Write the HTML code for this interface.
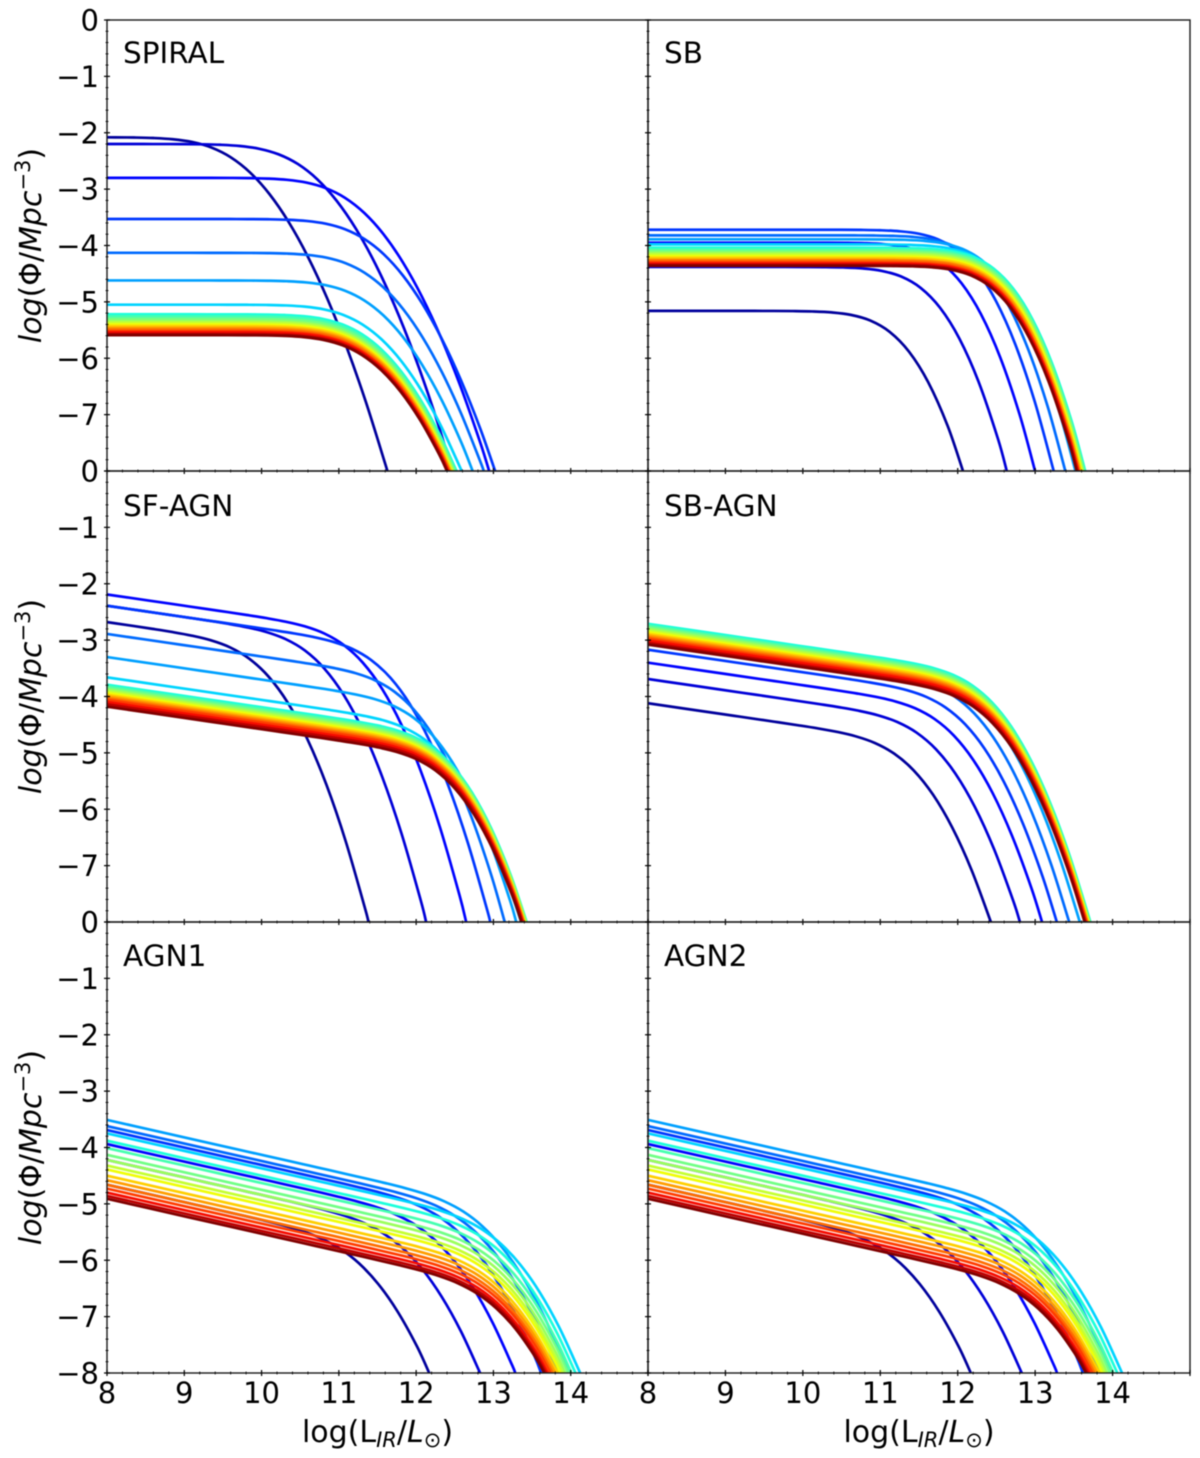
<!DOCTYPE html>
<html lang="en">
<head>
<meta charset="utf-8">
<title>Luminosity functions by galaxy population</title>
<style>
html,body{margin:0;padding:0;background:#fff;width:1200px;height:1458px;overflow:hidden;}
#figure{display:block;width:1200px;height:1458px;font-family:"DejaVu Sans","Liberation Sans",sans-serif;fill:#000;filter:blur(0.4px);}
</style>
</head>
<body>
<svg id="figure" xmlns="http://www.w3.org/2000/svg" width="1200" height="1458" viewBox="0 0 1200 1458">
  <g id="panels"></g>

  <text transform="translate(41 245.5) rotate(-90)" text-anchor="middle" font-size="30"><tspan font-style="italic">log</tspan>(Φ/<tspan font-style="italic">Mpc</tspan><tspan dy="-11" font-size="21">−3</tspan><tspan dy="11">)</tspan></text>
  <text transform="translate(41 696.5) rotate(-90)" text-anchor="middle" font-size="30"><tspan font-style="italic">log</tspan>(Φ/<tspan font-style="italic">Mpc</tspan><tspan dy="-11" font-size="21">−3</tspan><tspan dy="11">)</tspan></text>
  <text transform="translate(41 1147.5) rotate(-90)" text-anchor="middle" font-size="30"><tspan font-style="italic">log</tspan>(Φ/<tspan font-style="italic">Mpc</tspan><tspan dy="-11" font-size="21">−3</tspan><tspan dy="11">)</tspan></text>

  <text x="377.5" y="1442" text-anchor="middle" font-size="30">log(L<tspan dy="5" font-size="21" font-style="italic">IR</tspan><tspan dy="-5">/</tspan><tspan font-style="italic">L</tspan><tspan dy="5" font-size="21">⊙</tspan><tspan dy="-5">)</tspan></text>
  <text x="919" y="1442" text-anchor="middle" font-size="30">log(L<tspan dy="5" font-size="21" font-style="italic">IR</tspan><tspan dy="-5">/</tspan><tspan font-style="italic">L</tspan><tspan dy="5" font-size="21">⊙</tspan><tspan dy="-5">)</tspan></text>
</svg>

<script>
// Tick values and printed labels
const xTickValues = [8, 9, 10, 11, 12, 13, 14];
const xTickLabels = ["8", "9", "10", "11", "12", "13", "14"];
const yTickValues = [0, -1, -2, -3, -4, -5, -6, -7, -8];
const yTickLabels = ["0", "−1", "−2", "−3", "−4", "−5", "−6", "−7", "−8"];

// Panel titles
const panelNames = ["SPIRAL", "SB", "SF-AGN", "SB-AGN", "AGN1", "AGN2"];

// Height of each curve at the left edge, log L = 8
const spiralLevels = [-2.08, -2.2, -2.8, -3.53, -4.13, -4.62, -5.05, -5.22, -5.26, -5.30, -5.34, -5.37, -5.40, -5.43, -5.46, -5.49, -5.52, -5.54, -5.57, -5.59];
const sbLevels = [-5.16, -4.38, -3.95, -3.72, -3.82, -3.89, -3.98, -4.04, -4.07, -4.10, -4.13, -4.16, -4.19, -4.22, -4.25, -4.27, -4.30, -4.32, -4.34, -4.36];
const sfAgnLevels = [-2.68, -2.39, -2.19, -2.39, -2.89, -3.30, -3.66, -3.79, -3.82, -3.85, -3.88, -3.91, -3.94, -3.97, -4.0, -4.03, -4.06, -4.1, -4.14, -4.18];
const sbAgnLevels = [-4.12, -3.69, -3.40, -3.17, -2.95, -2.85, -2.78, -2.71, -2.74, -2.77, -2.80, -2.83, -2.86, -2.89, -2.92, -2.95, -2.98, -3.01, -3.05, -3.08];
const agn1Levels = [-4.66, -4.22, -3.94, -3.69, -3.62, -3.51, -3.75, -3.88, -4.01, -4.13, -4.22, -4.32, -4.39, -4.50, -4.58, -4.66, -4.73, -4.80, -4.86, -4.91];
const agn2Levels = [-4.66, -4.22, -3.94, -3.69, -3.62, -3.51, -3.75, -3.88, -4.01, -4.13, -4.22, -4.32, -4.39, -4.50, -4.58, -4.66, -4.73, -4.80, -4.86, -4.91];

// Knee position of each curve in log L (estimated from where each one bends and leaves the axes)
const spiralKnees = [9.1, 9.97, 10.58, 10.83, 10.835, 10.83, 10.81, 10.8, 10.8, 10.8, 10.8, 10.8, 10.8, 10.8, 10.8, 10.8, 10.8, 10.8, 10.8, 10.8];
const sbKnees = [10.87, 11.27, 11.55, 11.745, 11.915, 12.06, 12.14, 12.215, 12.21, 12.21, 12.2, 12.2, 12.2, 12.19, 12.19, 12.18, 12.18, 12.18, 12.17, 12.17];
const sfAgnKnees = [9.59, 10.31, 10.81, 11.17, 11.47, 11.715, 11.86, 11.97, 11.97, 11.98, 11.98, 11.98, 11.98, 11.99, 11.99, 11.99, 11.99, 12, 12, 12];
const sbAgnKnees = [10.93, 11.22, 11.45, 11.595, 11.71, 11.83, 11.92, 11.94, 11.94, 11.94, 11.94, 11.95, 11.95, 11.95, 11.95, 11.95, 11.95, 11.95, 11.95, 11.95];
const agn1Knees = [10.76, 11.33, 11.74, 12.03, 12.25, 12.36, 12.60, 12.58, 12.57, 12.57, 12.56, 12.56, 12.55, 12.55, 12.55, 12.55, 12.55, 12.54, 12.54, 12.54];
const agn2Knees = [10.76, 11.33, 11.74, 12.03, 12.25, 12.36, 12.60, 12.58, 12.57, 12.57, 12.56, 12.56, 12.55, 12.55, 12.55, 12.55, 12.55, 12.54, 12.54, 12.54];

// Low-end slope and bend strength of each panel
const panelSlopes = [0, 0, -0.2, -0.2, -0.31, -0.31];
const panelBends = [0.926, 1.88, 1.43, 1.31, 1.0, 1.0];

// Shared roll-off profile: distance from the knee, and the unit drop at that distance
const rolloffOffsets = [-9, -8, -7, -6, -5, -4, -3, -2.5, -2, -1.75, -1.5, -1.25, -1, -0.75, -0.5, -0.25, 0, 0.25, 0.5, 0.75, 1, 1.25, 1.5, 1.75, 2, 2.25, 2.5, 2.75, 3, 3.25, 3.5, 3.75, 4];
const rolloffDrops = [0, 0, 0, 0, 0, 0, 0, 0.000002, 0.000019, 0.000059, 0.000183, 0.000565, 0.001713, 0.00505, 0.01424, 0.03754, 0.09062, 0.19694, 0.38358, 0.67417, 1.0845, 1.62249, 2.29074, 3.0893, 4.0173, 5.0735, 6.2568, 7.5667, 9.0026, 10.5641, 12.251, 14.0628, 16.0003];

const levelsByPanel = [spiralLevels, sbLevels, sfAgnLevels, sbAgnLevels, agn1Levels, agn2Levels];
const kneesByPanel = [spiralKnees, sbKnees, sfAgnKnees, sbAgnKnees, agn1Knees, agn2Knees];

const SVG_NS = "http://www.w3.org/2000/svg";
const columnLeft = [107, 648];
const columnRight = [648, 1190];
const rowTop = [20, 471, 922];
const rowBottom = [471, 922, 1373];
const titleOffset = [43, 45, 44];
const xMin = 8, xMax = 15, yMin = -8, yMax = 0;

function xScale(col, v) {
  return columnLeft[col] + (v - xMin) / (xMax - xMin) * (columnRight[col] - columnLeft[col]);
}
function yScale(row, v) {
  return rowTop[row] + (yMax - v) / (yMax - yMin) * (rowBottom[row] - rowTop[row]);
}
function ramp(t, stops) {
  if (t <= stops[0][0]) return stops[0][1];
  for (let i = 1; i < stops.length; i++) {
    if (t <= stops[i][0]) {
      const a = stops[i - 1], b = stops[i];
      return a[1] + (b[1] - a[1]) * (t - a[0]) / (b[0] - a[0]);
    }
  }
  return stops[stops.length - 1][1];
}
function jet(t) {
  const r = ramp(t, [[0, 0], [0.35, 0], [0.66, 1], [0.89, 1], [1, 0.5]]);
  const g = ramp(t, [[0, 0], [0.125, 0], [0.375, 1], [0.64, 1], [0.91, 0], [1, 0]]);
  const b = ramp(t, [[0, 0.5], [0.11, 1], [0.34, 1], [0.65, 0], [1, 0]]);
  return "rgb(" + Math.round(r * 255) + "," + Math.round(g * 255) + "," + Math.round(b * 255) + ")";
}
function curvePoints(col, row, level, knee, slope, bend) {
  // Keep only the stretch inside the axes, ending exactly on the left edge and on the bottom edge.
  const pts = [];
  let prev = null;
  for (let i = 0; i < rolloffOffsets.length; i++) {
    const x = knee + rolloffOffsets[i];
    const y = level + slope * (x - xMin) - bend * rolloffDrops[i];
    const cur = [x, y];
    if (x >= xMin) {
      if (pts.length === 0 && prev) {
        const f = (xMin - prev[0]) / (x - prev[0]);
        pts.push([xMin, prev[1] + (y - prev[1]) * f]);
      }
      if (y <= yMin) {
        const last = pts[pts.length - 1];
        const f = (last[1] - yMin) / (last[1] - y);
        pts.push([last[0] + (x - last[0]) * f, yMin]);
        break;
      }
      pts.push(cur);
    }
    prev = cur;
  }
  return pts.map(function (p) { return [xScale(col, p[0]), yScale(row, p[1])]; });
}
function curvePath(pts) {
  let d = "M" + pts[0][0].toFixed(2) + " " + pts[0][1].toFixed(2);
  for (let i = 0; i < pts.length - 1; i++) {
    const p0 = pts[Math.max(i - 1, 0)], p1 = pts[i], p2 = pts[i + 1], p3 = pts[Math.min(i + 2, pts.length - 1)];
    const c1x = p1[0] + (p2[0] - p0[0]) / 6, c1y = p1[1] + (p2[1] - p0[1]) / 6;
    const c2x = p2[0] - (p3[0] - p1[0]) / 6, c2y = p2[1] - (p3[1] - p1[1]) / 6;
    d += "C" + c1x.toFixed(2) + " " + c1y.toFixed(2) + " " + c2x.toFixed(2) + " " + c2y.toFixed(2) + " " + p2[0].toFixed(2) + " " + p2[1].toFixed(2);
  }
  return d;
}

const root = document.getElementById("panels");

panelNames.forEach(function (name, p) {
  const col = p % 2;
  const row = Math.floor(p / 2);
  const slug = name.toLowerCase();
  const left = columnLeft[col], right = columnRight[col], top = rowTop[row], bottom = rowBottom[row];

  const panel = document.createElementNS(SVG_NS, "g");
  
  
  root.appendChild(panel);

  const clip = document.createElementNS(SVG_NS, "clipPath");
  clip.setAttribute("id", "clip-" + p);
  const clipRect = document.createElementNS(SVG_NS, "rect");
  clipRect.setAttribute("x", left);
  clipRect.setAttribute("y", top);
  clipRect.setAttribute("width", right - left);
  clipRect.setAttribute("height", bottom - top);
  clip.appendChild(clipRect);
  panel.appendChild(clip);

  const curves = document.createElementNS(SVG_NS, "g");
  
  
  curves.setAttribute("clip-path", "url(#clip-" + p + ")");
  panel.appendChild(curves);

  const levels = levelsByPanel[p];
  const knees = kneesByPanel[p];
  levels.forEach(function (level, i) {
    const line = document.createElementNS(SVG_NS, "path");
    
    
    line.setAttribute("d", curvePath(curvePoints(col, row, level, knees[i], panelSlopes[p], panelBends[p])));
    line.setAttribute("fill", "none");
    line.setAttribute("stroke", jet(0.025 + 0.975 * i / (levels.length - 1)));
    line.setAttribute("stroke-width", "2.7");
    curves.appendChild(line);
  });

  const frame = document.createElementNS(SVG_NS, "rect");
  
  
  frame.setAttribute("x", left);
  frame.setAttribute("y", top);
  frame.setAttribute("width", right - left);
  frame.setAttribute("height", bottom - top);
  frame.setAttribute("fill", "none");
  frame.setAttribute("stroke", "#1a1a1a");
  frame.setAttribute("stroke-width", "1.4");
  panel.appendChild(frame);

  const ticks = document.createElementNS(SVG_NS, "g");
  
  
  ticks.setAttribute("stroke", "#000");
  panel.appendChild(ticks);

  for (let i = 0; i <= 35; i++) {
    const major = i % 5 === 0;
    const half = major ? 3 : 1.5;
    const xp = xScale(col, xMin + i * 0.2);
    const t = document.createElementNS(SVG_NS, "line");
    
    
    t.setAttribute("x1", xp);
    t.setAttribute("x2", xp);
    t.setAttribute("y1", bottom - half);
    t.setAttribute("y2", bottom + half);
    t.setAttribute("stroke-width", major ? "1.2" : "0.8");
    ticks.appendChild(t);
  }
  for (let i = 0; i <= 40; i++) {
    const major = i % 5 === 0;
    const half = major ? 3 : 1.5;
    const yp = yScale(row, yMax - i * 0.2);
    const t = document.createElementNS(SVG_NS, "line");
    
    
    t.setAttribute("x1", left - half);
    t.setAttribute("x2", left + half);
    t.setAttribute("y1", yp);
    t.setAttribute("y2", yp);
    t.setAttribute("stroke-width", major ? "1.2" : "0.8");
    ticks.appendChild(t);
  }

  const title = document.createElementNS(SVG_NS, "text");
  
  
  title.setAttribute("x", left + 16);
  title.setAttribute("y", top + titleOffset[row]);
  title.setAttribute("font-size", "29.5");
  title.textContent = name;
  panel.appendChild(title);

  if (col === 0) {
    yTickValues.forEach(function (v, i) {
      if (v === yMin && row !== 2) return;
      const label = document.createElementNS(SVG_NS, "text");
      
      
      label.setAttribute("x", left - 8);
      label.setAttribute("y", yScale(row, v) + 10.5);
      label.setAttribute("text-anchor", "end");
      label.setAttribute("font-size", "29");
      label.textContent = yTickLabels[i];
      panel.appendChild(label);
    });
  }
  if (row === 2) {
    xTickValues.forEach(function (v, i) {
      const label = document.createElementNS(SVG_NS, "text");
      
      
      label.setAttribute("x", xScale(col, v));
      label.setAttribute("y", bottom + 30);
      label.setAttribute("text-anchor", "middle");
      label.setAttribute("font-size", "29");
      label.textContent = xTickLabels[i];
      panel.appendChild(label);
    });
  }
});
</script>
</body>
</html>
